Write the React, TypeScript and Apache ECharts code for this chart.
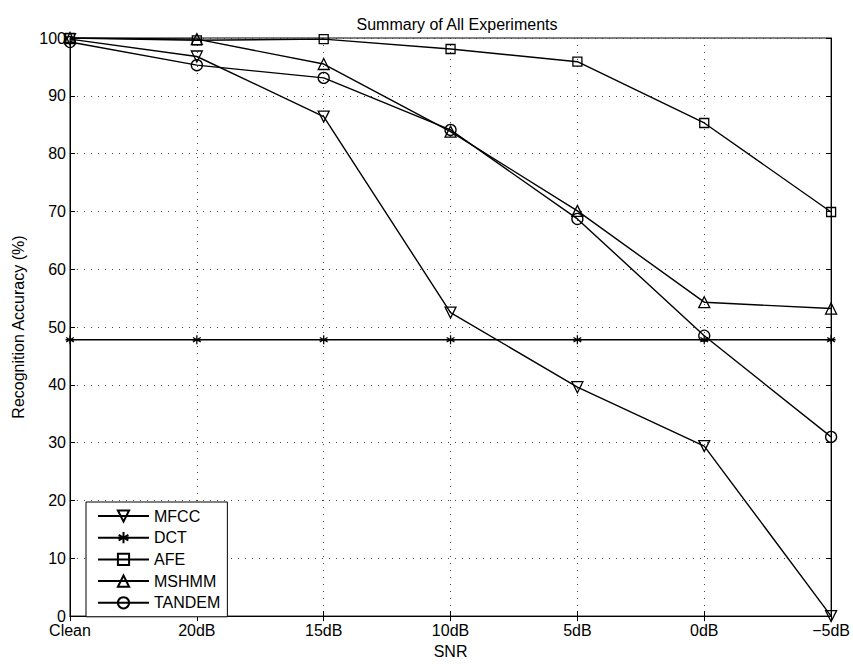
import React, { useEffect, useRef } from "react";
import * as echarts from "echarts";

const categories = ["Clean", "20dB", "15dB", "10dB", "5dB", "0dB", "\u22125dB"];
const mfcc = [99.8, 96.8, 86.4, 52.5, 39.6, 29.4, 0];
const dct = [47.8, 47.8, 47.8, 47.8, 47.8, 47.8, 47.8];
const afe = [100, 99.6, 99.8, 98.1, 95.9, 85.3, 69.9];
const mshmm = [100, 99.8, 95.5, 83.8, 70.1, 54.3, 53.2];
const tandem = [99.3, 95.3, 93.1, 84.1, 68.7, 48.5, 31.0];
const seriesNames = ["MFCC", "DCT", "AFE", "MSHMM", "TANDEM"];

const FONT = "Liberation Sans, Arial, Helvetica, sans-serif";
const FS = 16;

const downTri = "path://M0,0 L10,0 L5,8.66 Z";
const asterisk = "path://M5,0 L5,10 M0.67,2.5 L9.33,7.5 M0.67,7.5 L9.33,2.5 M0,5 L10,5";

export default function App() {
  const ref = useRef<HTMLDivElement>(null);
  useEffect(() => {
    document.body.style.margin = "0";
    const chart = echarts.init(ref.current!, null, { renderer: "svg" });
    const mk = (name: string, data: number[], symbol: string, size: number) => ({
      name,
      type: "line",
      data,
      symbol,
      symbolSize: size,
      showSymbol: true,
      lineStyle: { color: "#000", width: 1.4 },
      itemStyle: { color: "rgba(255,255,255,0)", borderColor: "#000", borderWidth: 1.3 },
      emphasis: { disabled: true },
      xAxisIndex: 0,
      yAxisIndex: 0,
    });
    const tickStyle = { show: true, inside: true, length: 5, lineStyle: { color: "#000" } };
    chart.setOption({
      animation: false,
      backgroundColor: "#fff",
      textStyle: { fontFamily: FONT },
      title: {
        text: "Summary of All Experiments",
        left: 452,
        textAlign: "center",
        top: 11,
        textStyle: { fontFamily: FONT, fontSize: FS, fontWeight: "normal", color: "#000" },
      },
      grid: {
        left: 70,
        right: 18,
        top: 38,
        bottom: 45,
        show: true,
        borderColor: "#000",
        borderWidth: 1,
        backgroundColor: "#fff",
      },
      legend: {
        data: seriesNames,
        orient: "vertical",
        left: 86,
        top: 502,
        itemWidth: 51,
        itemHeight: 14,
        itemGap: 5.7,
        padding: [6, 7, 6, 11],
        borderColor: "#000",
        borderWidth: 1,
        backgroundColor: "#fff",
        textStyle: { fontFamily: FONT, fontSize: FS, color: "#000", lineHeight: 14, padding: [0, 0, 0, 0] },
        selectedMode: false,
      },
      xAxis: [
        {
          type: "category",
          data: categories,
          boundaryGap: false,
          position: "bottom",
          name: "SNR",
          nameLocation: "middle",
          nameGap: 25,
          nameTextStyle: { fontFamily: FONT, fontSize: FS, color: "#000" },
          axisLine: { lineStyle: { color: "#000", width: 1 } },
          axisTick: { ...tickStyle, alignWithLabel: true },
          axisLabel: { fontFamily: FONT, fontSize: FS, color: "#000", margin: 6 },
          splitLine: { show: true, lineStyle: { color: "#444", type: [1, 6], width: 1 } },
        },
        {
          type: "category",
          data: categories,
          boundaryGap: false,
          position: "top",
          axisLine: { lineStyle: { color: "#000", width: 1 } },
          axisTick: tickStyle,
          axisLabel: { show: false },
          splitLine: { show: false },
        },
      ],
      yAxis: [
        {
          type: "value",
          min: 0,
          max: 100,
          interval: 10,
          position: "left",
          name: "Recognition Accuracy (%)",
          nameLocation: "middle",
          nameGap: 44,
          nameRotate: 90,
          nameTextStyle: { fontFamily: FONT, fontSize: FS, color: "#000" },
          axisLine: { show: true, lineStyle: { color: "#000", width: 1 } },
          axisTick: tickStyle,
          axisLabel: { fontFamily: FONT, fontSize: FS, color: "#000", margin: 4 },
          splitLine: { show: true, lineStyle: { color: "#444", type: [1, 6], width: 1 } },
        },
        {
          type: "value",
          min: 0,
          max: 100,
          interval: 10,
          position: "right",
          axisLine: { show: true, lineStyle: { color: "#000", width: 1 } },
          axisTick: tickStyle,
          axisLabel: { show: false },
          splitLine: { show: false },
        },
      ],
      series: [
        mk("MFCC", mfcc, downTri, 11),
        mk("DCT", dct, asterisk, 9),
        mk("AFE", afe, "rect", 9),
        mk("MSHMM", mshmm, "triangle", 11),
        mk("TANDEM", tandem, "circle", 11),
      ],
    });
    return () => chart.dispose();
  }, []);
  return (
    <div
      ref={ref}
      style={{ position: "absolute", left: 0, top: 0, width: 853, height: 664 }}
    />
  );
}
